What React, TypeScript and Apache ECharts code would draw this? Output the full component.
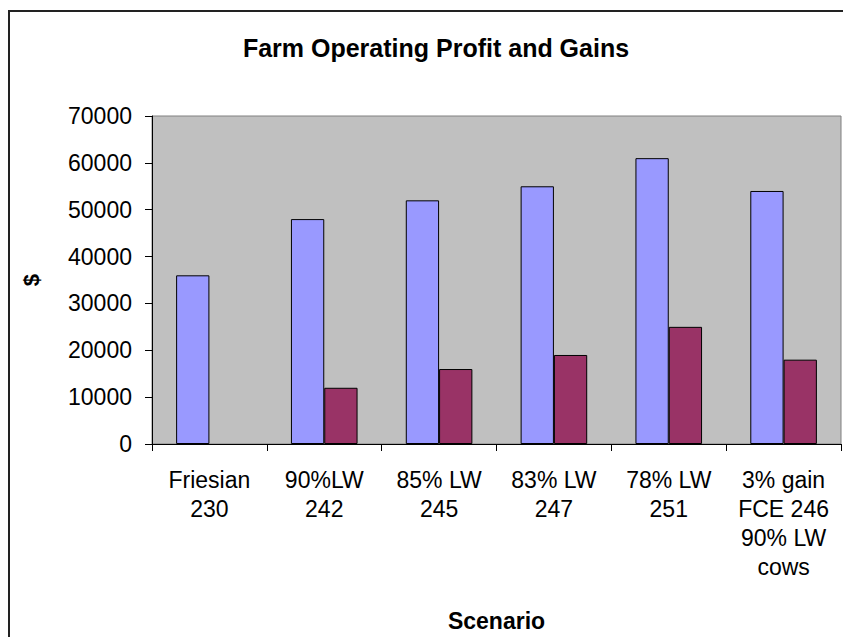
import React, { useEffect, useRef } from "react";
import * as echarts from "echarts";

const categories = [
  "Friesian\n230",
  "90%LW\n242",
  "85% LW\n245",
  "83% LW\n247",
  "78% LW\n251",
  "3% gain\nFCE 246\n90% LW\ncows",
];
const operatingProfit = [36000, 48000, 52000, 55000, 61000, 54000];
const gains = [null, 12000, 16000, 19000, 25000, 18000];
const yTicks = { min: 0, max: 70000, interval: 10000 };

const FONT = "'Liberation Sans', Arial, sans-serif";

export default function App() {
  const ref = useRef<HTMLDivElement>(null);
  useEffect(() => {
    if (!ref.current) return;
    const chart = echarts.init(ref.current, undefined, { renderer: "svg" });
    chart.setOption({
      animation: false,
      backgroundColor: "#ffffff",
      title: {
        text: "Farm Operating Profit and Gains",
        left: 431,
        textAlign: "center",
        top: 30,
        textStyle: { fontFamily: FONT, fontSize: 25, fontWeight: "bold", color: "#000" },
      },
      graphic: [
        {
          type: "rect",
          shape: { x: 9, y: 11, width: 900, height: 700 },
          style: { fill: "none", stroke: "#222", lineWidth: 2 },
          silent: true,
        },
      ],
      grid: {
        left: 152,
        top: 116,
        right: 2,
        bottom: 193,
        show: true,
        backgroundColor: "#C0C0C0",
        borderColor: "#808080",
        borderWidth: 1,
        containLabel: false,
      },
      xAxis: {
        type: "category",
        data: categories,
        name: "Scenario",
        nameLocation: "middle",
        nameGap: 165,
        nameTextStyle: { fontFamily: FONT, fontSize: 23, fontWeight: "bold", color: "#000" },
        axisLine: { show: true, lineStyle: { color: "#000", width: 1 } },
        axisTick: { show: true, length: 7, lineStyle: { color: "#000" } },
        axisLabel: {
          interval: 0,
          margin: 21,
          fontFamily: FONT,
          fontSize: 23,
          lineHeight: 29,
          color: "#000",
          align: "center",
        },
        splitLine: { show: false },
      },
      yAxis: {
        type: "value",
        min: yTicks.min,
        max: yTicks.max,
        interval: yTicks.interval,
        name: "$",
        nameLocation: "middle",
        nameRotate: 90,
        nameGap: 110,
        nameTextStyle: { fontFamily: FONT, fontSize: 22, fontWeight: "bold", color: "#000" },
        axisLine: { show: true, lineStyle: { color: "#000", width: 1 } },
        axisTick: { show: true, length: 7, lineStyle: { color: "#000" } },
        axisLabel: {
          margin: 20,
          fontFamily: FONT,
          fontSize: 23,
          color: "#000",
          formatter: (v: number) => String(v),
        },
        splitLine: { show: false },
      },
      series: [
        {
          name: "Operating Profit",
          type: "bar",
          data: operatingProfit,
          barGap: "0%",
          barCategoryGap: "42%",
          itemStyle: { color: "#9999FF", borderColor: "#000", borderWidth: 1 },
        },
        {
          name: "Gains",
          type: "bar",
          data: gains,
          barGap: "0%",
          barCategoryGap: "42%",
          itemStyle: { color: "#993366", borderColor: "#000", borderWidth: 1 },
        },
      ],
    });
    return () => chart.dispose();
  }, []);
  return (
    <div
      ref={ref}
      style={{ position: "fixed", left: 0, top: 0, width: 843, height: 637 }}
    />
  );
}
